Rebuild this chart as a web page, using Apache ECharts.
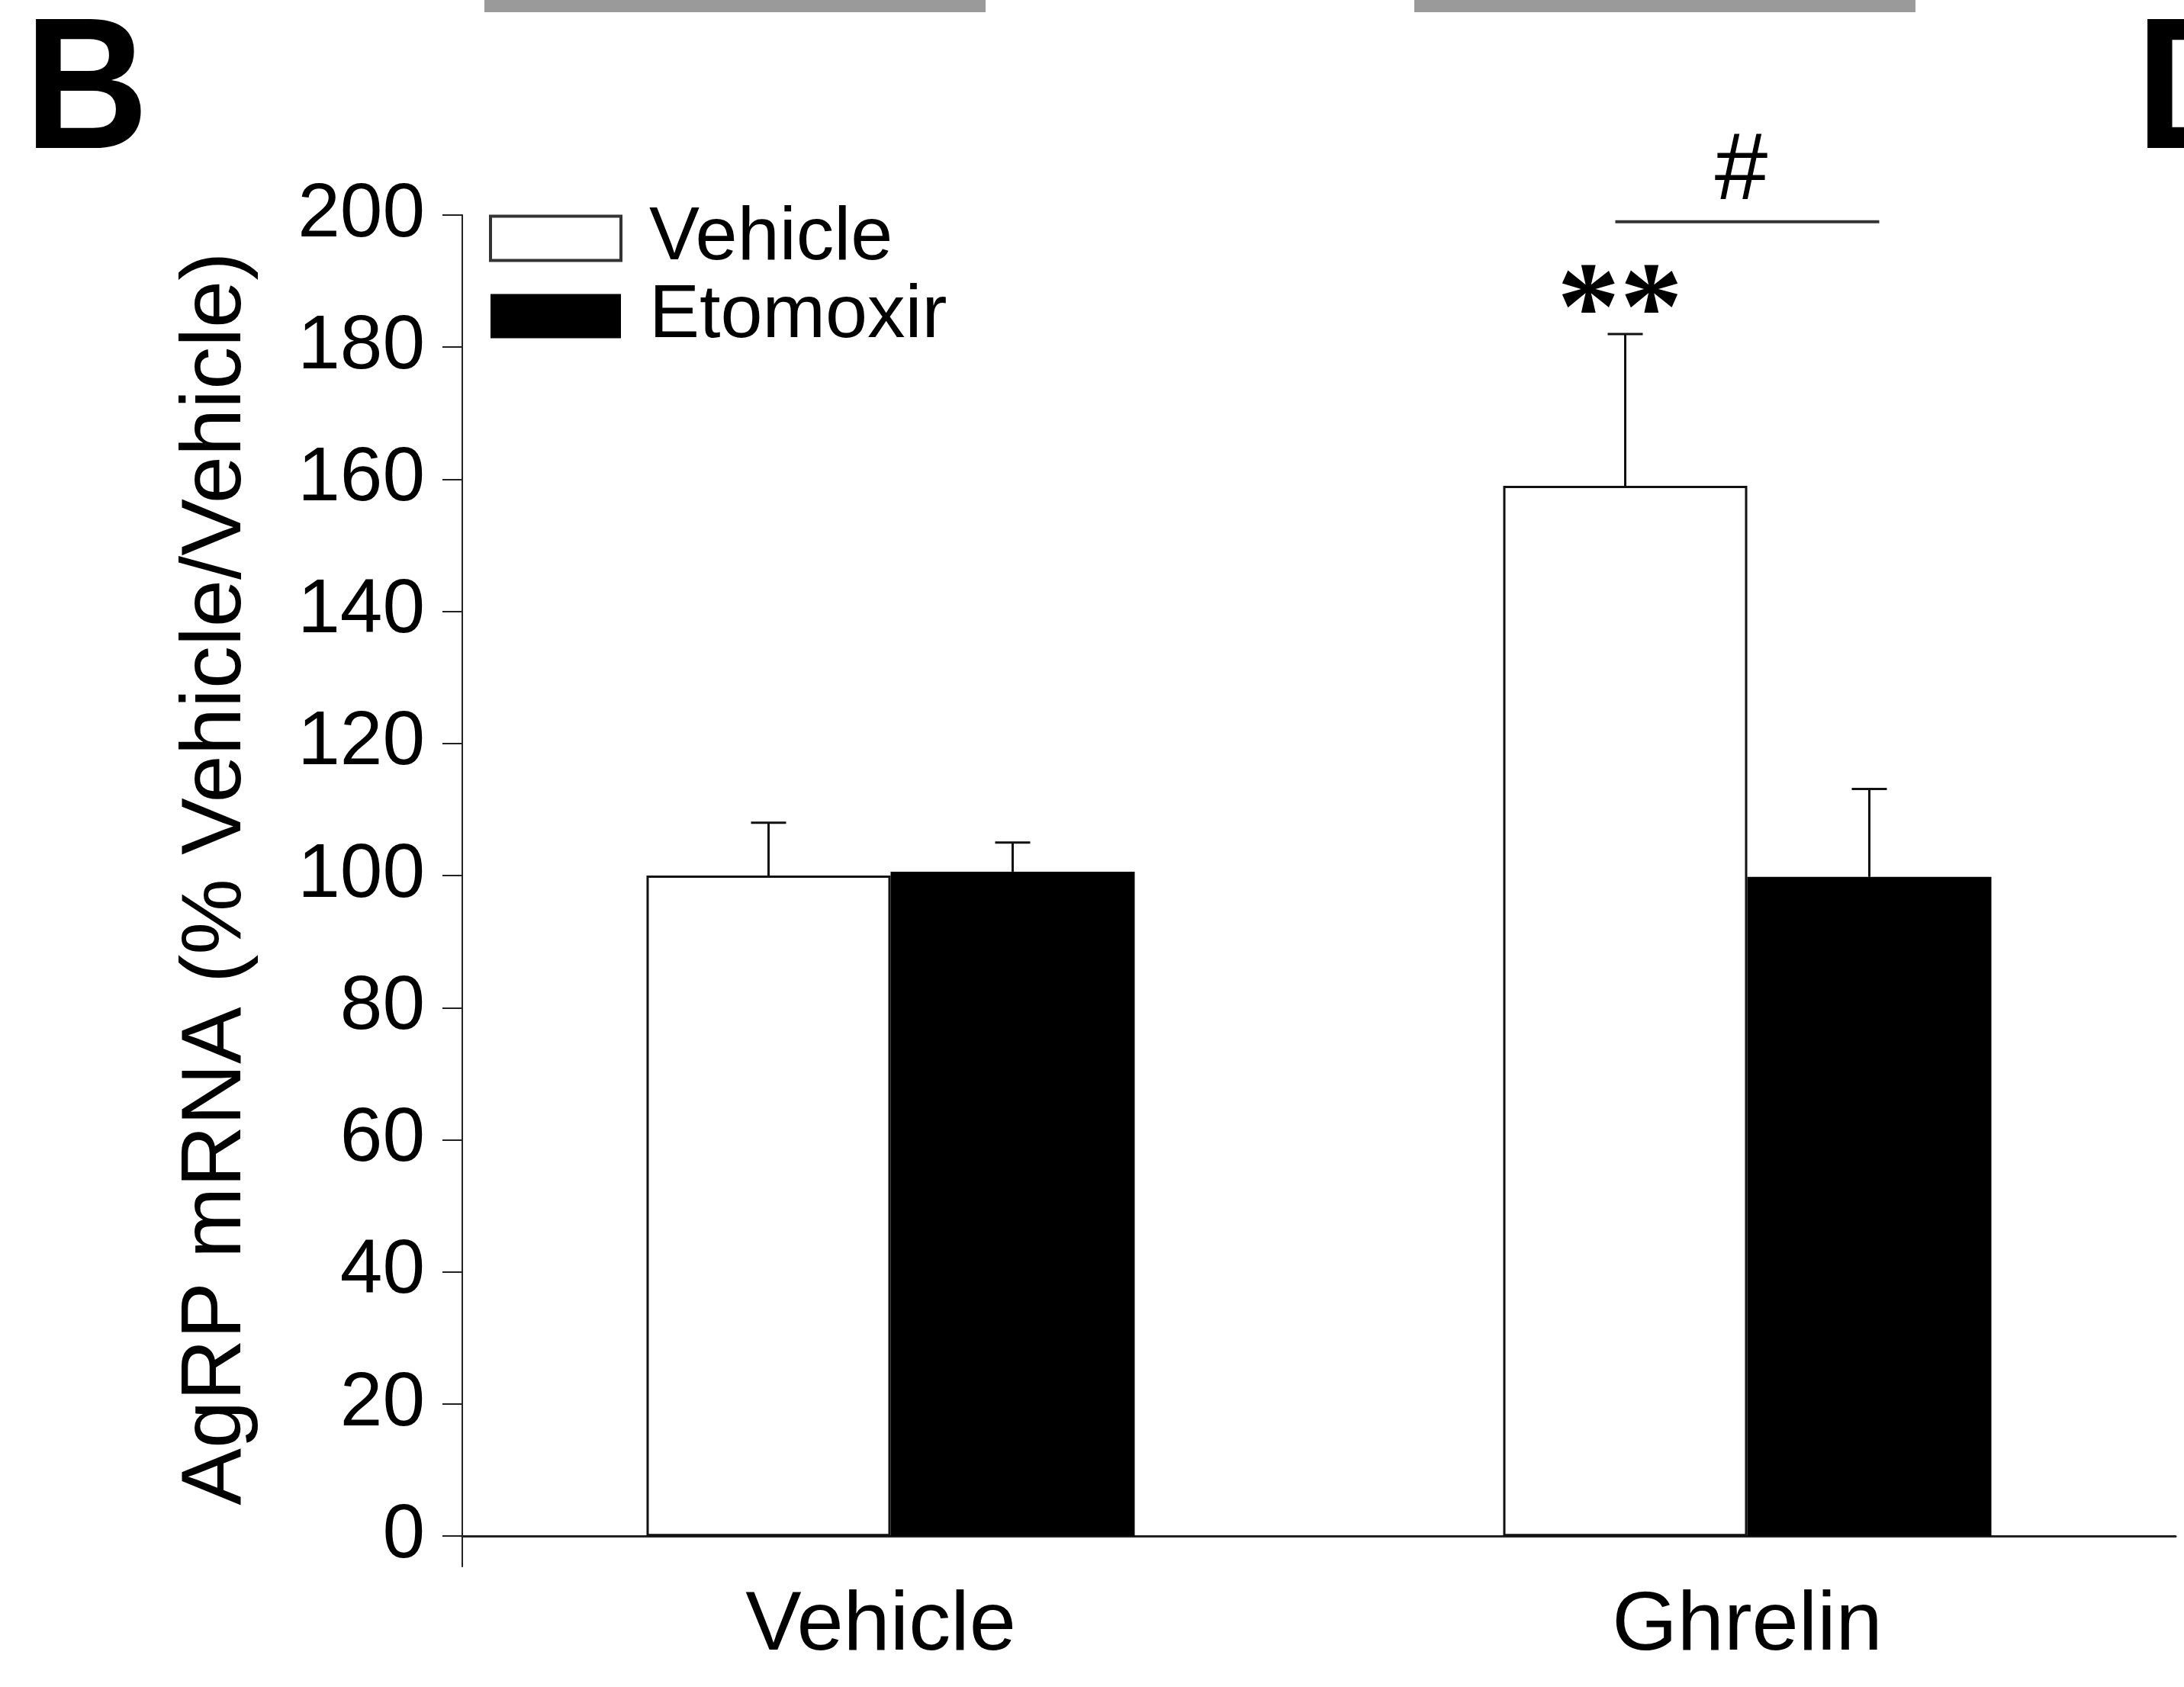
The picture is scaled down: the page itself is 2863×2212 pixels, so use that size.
<!DOCTYPE html>
<html><head><meta charset="utf-8">
<script src="https://cdn.jsdelivr.net/npm/echarts@6/dist/echarts.min.js"></script>
<style>html,body{margin:0;padding:0;background:#fff}#c{width:2863px;height:2212px}</style>
</head><body><div id="c"></div>
<script>
// ---- data ----
const categories = ['Vehicle', 'Ghrelin'];
const seriesNames = ['Vehicle', 'Etomoxir'];
const vehicleValues = [100, 159];
const etomoxirValues = [100.6, 99.8];
const vehicleErr = [8, 23];
const etomoxirErr = [4.4, 13.3];
const yTicks = [0, 20, 40, 60, 80, 100, 120, 140, 160, 180, 200];
const vehicleSig = ['', '**'];
const etomoxirSig = ['', ''];
const bracketCategory = [1];
const bracketValue = [199];
const bracketLabel = ['#'];

// ---- style ----
const FONT = '"Liberation Sans", Arial, sans-serif';
const BAR_W = 320;
const CAP = 23;

const chart = echarts.init(document.getElementById('c'), null, {renderer: 'canvas'});

function errRender(side, sigs) {
  return function (params, api) {
    const cat = api.value(0), v = api.value(1), e = api.value(2);
    const base = api.coord([cat, v]);
    const top = api.coord([cat, v + e]);
    const x = base[0] + side * BAR_W / 2;
    const children = [
      {type: 'line', shape: {x1: x, y1: base[1], x2: x, y2: top[1]}, style: {stroke: '#111', lineWidth: 3}},
      {type: 'line', shape: {x1: x - CAP, y1: top[1], x2: x + CAP, y2: top[1]}, style: {stroke: '#111', lineWidth: 3}}
    ];
    const sig = sigs[params.dataIndex];
    if (sig) {
      children.push({type: 'text', x: x - 7, y: top[1] - 24,
        style: {text: sig, font: 'bold 165px "Liberation Serif", "Times New Roman", serif', fill: '#000', align: 'center', verticalAlign: 'middle'}});
    }
    return {type: 'group', children};
  };
}

function bracketRender(params, api) {
  const cat = api.value(0), v = api.value(1);
  const p = api.coord([cat, v]);
  const x1 = p[0] - BAR_W / 2 - 13, x2 = p[0] + BAR_W / 2 + 13;
  return {type: 'group', children: [
    {type: 'line', shape: {x1: x1, y1: p[1], x2: x2, y2: p[1]}, style: {stroke: '#333', lineWidth: 4}},
    {type: 'text', x: (x1 + x2) / 2 - 8, y: p[1] - 64,
      style: {text: bracketLabel[params.dataIndex], font: '125px ' + FONT, fill: '#000', align: 'center', verticalAlign: 'middle'}}
  ]};
}

const option = {
  animation: false,
  backgroundColor: '#fff',
  grid: {left: 606, right: 11, top: 282, bottom: 158, containLabel: false},
  legend: {
    orient: 'vertical', left: 636, top: 258, itemWidth: 171, itemHeight: 58, itemGap: 3,
    selectedMode: false, icon: 'rect',
    data: [
      {name: seriesNames[0], itemStyle: {color: '#fff', borderColor: '#333', borderWidth: 4}},
      {name: seriesNames[1], itemStyle: {color: '#000'}}
    ],
    textStyle: {fontFamily: FONT, fontSize: 99, color: '#000', lineHeight: 60, padding: [0, 0, 0, 32]}
  },
  xAxis: {
    type: 'category',
    data: [{value: categories[0], textStyle: {padding: [0, 26, 0, 0]}}, categories[1]],
    axisLine: {show: true, onZero: true, lineStyle: {color: '#222', width: 3}},
    axisTick: {show: false},
    axisLabel: {margin: 24, fontSize: 110, fontFamily: FONT, color: '#000', interval: 0}
  },
  yAxis: {
    type: 'value', min: -4.6, max: 200,
    axisLine: {show: true, lineStyle: {color: '#222', width: 2}},
    axisTick: {show: true, length: 26, lineStyle: {color: '#222', width: 2}, customValues: yTicks},
    axisLabel: {customValues: yTicks, margin: 49, fontSize: 100, fontFamily: FONT, color: '#000'},
    splitLine: {show: false},
    name: 'AgRP mRNA (% Vehicle/Vehicle)', nameLocation: 'middle', nameGap: 266,
    nameTextStyle: {fontSize: 112, fontFamily: FONT, color: '#000', lineHeight: 112, padding: [0, 0, 0, 32]}
  },
  series: [
    {type: 'bar', name: seriesNames[0], data: vehicleValues, barWidth: BAR_W, barGap: '0%',
      itemStyle: {color: '#fff', borderColor: '#111', borderWidth: 3}, silent: true},
    {type: 'bar', name: seriesNames[1], data: etomoxirValues, barWidth: BAR_W, barGap: '0%',
      itemStyle: {color: '#000'}, silent: true},
    {type: 'custom', name: 'errV', z: 5, silent: true,
      data: categories.map((c, i) => [i, vehicleValues[i], vehicleErr[i]]),
      renderItem: errRender(-1, vehicleSig)},
    {type: 'custom', name: 'errE', z: 5, silent: true,
      data: categories.map((c, i) => [i, etomoxirValues[i], etomoxirErr[i]]),
      renderItem: errRender(1, etomoxirSig)},
    {type: 'custom', name: 'bracket', z: 5, silent: true,
      data: bracketCategory.map((c, i) => [c, bracketValue[i]]),
      renderItem: bracketRender}
  ],
  graphic: [
    {type: 'rect', shape: {x: 635, y: 0, width: 657, height: 16}, style: {fill: '#9a9a9a'}, silent: true},
    {type: 'rect', shape: {x: 1854, y: 0, width: 657, height: 16}, style: {fill: '#9a9a9a'}, silent: true},
    {type: 'text', x: 32, y: 4, scaleX: 0.92, style: {text: 'B', font: 'bold 245px ' + FONT, fill: '#000', verticalAlign: 'top'}},
    {type: 'text', x: 2800, y: 4, scaleX: 0.92, style: {text: 'D', font: 'bold 245px ' + FONT, fill: '#000', verticalAlign: 'top'}}
  ]
};
chart.setOption(option);
</script>
</body></html>
